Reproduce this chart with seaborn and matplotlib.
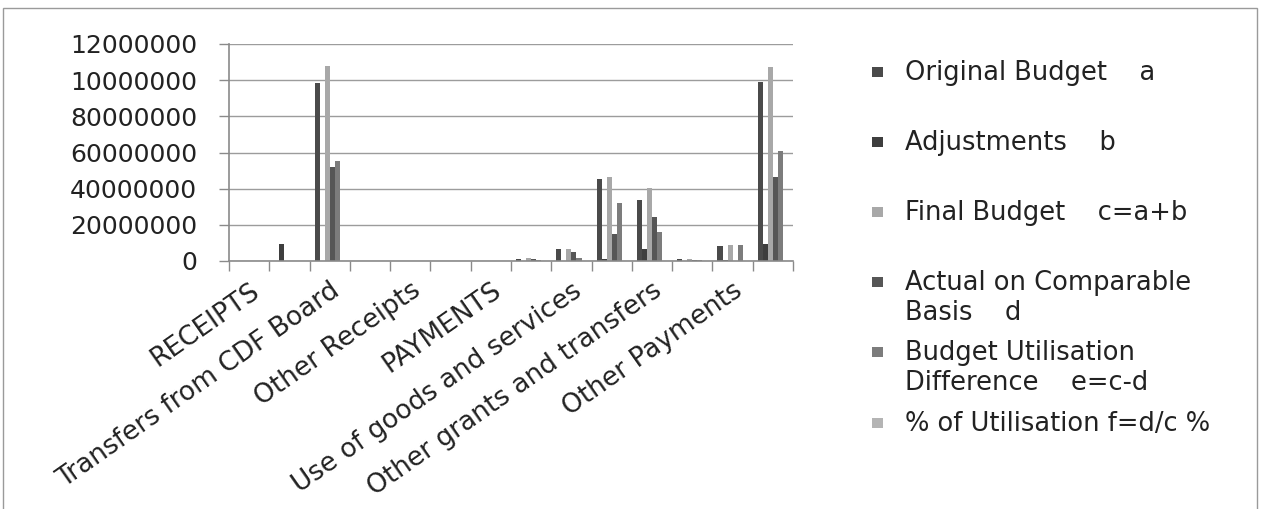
import numpy as np
import pandas as pd
import seaborn as sns
import matplotlib
matplotlib.use("Agg")
import matplotlib.pyplot as plt
from matplotlib.patches import Rectangle

# Statement lines (x-axis categories); only every other one is labelled on the axis
categories = [
    "RECEIPTS", "Balance b/f", "Transfers from CDF Board", "Proceeds from Sale of Assets",
    "Other Receipts", "TOTAL RECEIPTS", "PAYMENTS", "Compensation of Employees",
    "Use of goods and services", "Transfers to Other Government Units",
    "Other grants and transfers", "Acquisition of Assets", "Other Payments", "TOTAL PAYMENTS",
]

series = [
    "Original Budget    a",
    "Adjustments    b",
    "Final Budget    c=a+b",
    "Actual on Comparable\nBasis    d",
    "Budget Utilisation\nDifference    e=c-d",
    "% of Utilisation f=d/c %",
]

original_budget = [0, 0, 98.5e6, 0, 0, 0, 0, 1.2e6, 6.6e6, 45.4e6, 33.7e6, 1.2e6, 8.3e6, 98.8e6]
adjustments     = [0, 9.2e6, 0, 0, 0, 0, 0, 0, 0, 1.3e6, 6.6e6, 0, 0.5e6, 9.4e6]
final_budget    = [0, 0, 107.8e6, 0, 0, 0, 0, 1.5e6, 6.6e6, 46.7e6, 40.2e6, 1.0e6, 8.8e6, 107.5e6]
actual          = [0, 0, 52.2e6, 0, 0, 0, 0, 1.0e6, 5.1e6, 15.0e6, 24.5e6, 0.8e6, 0, 46.6e6]
difference      = [0, 0, 55.3e6, 0, 0, 0, 0, 0.5e6, 1.5e6, 31.9e6, 16.0e6, 0.3e6, 8.8e6, 60.8e6]
utilisation_pct = [0, 0, 48, 0, 0, 0, 0, 67, 77, 32, 61, 80, 0, 43]

y_ticks = [0, 20e6, 40e6, 60e6, 80e6, 100e6, 120e6]
y_tick_labels = ["0", "20000000", "40000000", "60000000", "80000000", "10000000", "12000000"]

colors = ["#4a4a4a", "#3e3e3e", "#a8a8a8", "#565656", "#7c7c7c", "#b4b4b4"]

values = [original_budget, adjustments, final_budget, actual, difference, utilisation_pct]
df = pd.DataFrame(
    [(c, s, v) for s, vals in zip(series, values) for c, v in zip(categories, vals)],
    columns=["category", "series", "value"],
)

sns.set_style("white")
plt.rcParams["font.family"] = ["DejaVu Sans"]

W, H = 1265, 509
fig = plt.figure(figsize=(W / 100, H / 100), dpi=100)
ax = fig.add_axes([229 / W, 1 - 261 / H, (793 - 229) / W, (261 - 44) / H])

sns.barplot(
    data=df, x="category", y="value", hue="series",
    order=categories, hue_order=series, palette=colors,
    saturation=1, width=0.75, errorbar=None, legend=False, ax=ax,
    linewidth=0,
)

ax.set_xlim(-0.5, len(categories) - 0.5)
ax.set_ylim(0, 120e6)
ax.set_xlabel("")
ax.set_ylabel("")

# horizontal gridlines
ax.yaxis.grid(True, color="#9c9c9c", linewidth=1)
ax.xaxis.grid(False)
ax.set_axisbelow(True)

for side in ("top", "right"):
    ax.spines[side].set_visible(False)
for side in ("left", "bottom"):
    ax.spines[side].set_color("#8a8a8a")
    ax.spines[side].set_linewidth(1.2)

ax.set_yticks(y_ticks)
ax.set_yticklabels(y_tick_labels, fontsize=18, color="#222222")
ax.tick_params(axis="y", direction="out", length=7, width=1, color="#8a8a8a", pad=16, left=True)

shown = list(range(0, len(categories), 2))
ax.set_xticks(shown)
ax.set_xticklabels([categories[i] for i in shown], fontsize=19, color="#222222",
                   rotation=35, ha="right", rotation_mode="anchor")
ax.tick_params(axis="x", which="major", length=0, pad=12)
ax.set_xticks(np.arange(-0.5, len(categories), 1.0), minor=True)
ax.tick_params(axis="x", which="minor", direction="out", length=7, width=1, color="#8a8a8a", bottom=True)

# legend on the right
legend_rows = [72, 142, 212, 282, 352, 423]
for name, col, yp in zip(series, colors, legend_rows):
    fig.patches.append(Rectangle((872 / W, 1 - (yp + 5) / H), 11 / W, 10 / H,
                                 transform=fig.transFigure, facecolor=col, edgecolor="none"))
    fig.text(905 / W, 1 - (yp - 12) / H, name, fontsize=18.5, color="#222222",
             va="top", ha="left", linespacing=1.2,
             transform=fig.transFigure)

# chart frame
fig.patches.append(Rectangle((3 / W, -0.02), (1257 - 3) / W, (509 - 8) / H + 0.02,
                             transform=fig.transFigure, fill=False,
                             edgecolor="#9a9a9a", linewidth=1))

fig.savefig("out.png", dpi=100, facecolor="white")
